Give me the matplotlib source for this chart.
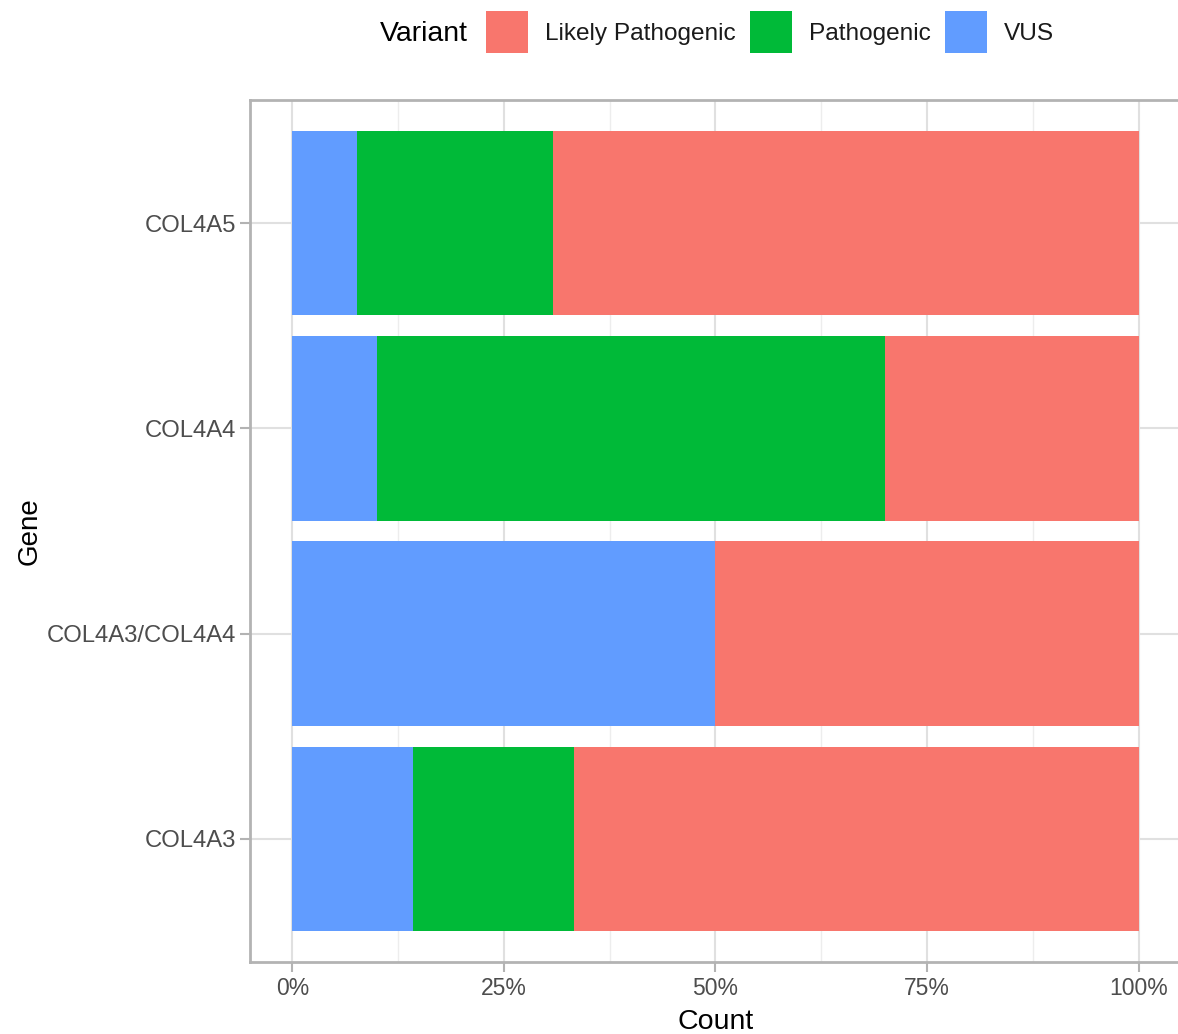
import numpy as np
import matplotlib
matplotlib.use("Agg")
import matplotlib.pyplot as plt
from matplotlib.patches import Patch
from matplotlib.ticker import PercentFormatter, MultipleLocator

plt.rcParams['font.family'] = ['Liberation Sans', 'DejaVu Sans']

# ---- data ----
genes = ["COL4A3", "COL4A3/COL4A4", "COL4A4", "COL4A5"]
vus = [3, 1, 1, 1]
pathogenic = [4, 0, 6, 3]
likely_pathogenic = [14, 1, 3, 9]
variant_labels = ["Likely Pathogenic", "Pathogenic", "VUS"]
colors = {"Likely Pathogenic": "#F8766D", "Pathogenic": "#00BA38", "VUS": "#619CFF"}
x_ticks = [0, 0.25, 0.5, 0.75, 1.0]

W, H = 1178, 1034
fig = plt.figure(figsize=(W / 100, H / 100), dpi=100)
left, right, top, bottom = 250, 1181, 100, 962
ax = fig.add_axes([left / W, 1 - bottom / H, (right - left) / W, (bottom - top) / H])

v = np.array(vus, float)
p = np.array(pathogenic, float)
lp = np.array(likely_pathogenic, float)
tot = v + p + lp
fv, fp, flp = v / tot, p / tot, lp / tot
y = np.arange(1, len(genes) + 1)

ax.barh(y, fv, height=0.9, color=colors["VUS"], zorder=3)
ax.barh(y, fp, left=fv, height=0.9, color=colors["Pathogenic"], zorder=3)
ax.barh(y, flp, left=fv + fp, height=0.9, color=colors["Likely Pathogenic"], zorder=3)

ax.set_xlim(-0.05, 1.05)
ax.set_ylim(0.4, len(genes) + 0.6)
ax.set_xticks(x_ticks)
ax.xaxis.set_minor_locator(MultipleLocator(0.125))
ax.xaxis.set_major_formatter(PercentFormatter(xmax=1, decimals=0))
ax.set_yticks(y)
ax.set_yticklabels(genes)
ax.tick_params(axis='both', which='major', length=7, width=1.5, color='#B3B3B3',
               labelsize=16.5, labelcolor='#4D4D4D', pad=4)
ax.tick_params(axis='y', which='major', labelsize=17.2, pad=3)
ax.tick_params(axis='x', which='minor', length=0)
ax.grid(True, which='major', color='#E0E0E0', linewidth=1.5, zorder=0)
ax.grid(True, which='minor', axis='x', color='#EDEDED', linewidth=1.0, zorder=0)
ax.set_axisbelow(True)
for s in ax.spines.values():
    s.set_color('#B3B3B3')
    s.set_linewidth(2)

ax.set_xlabel("Count", fontsize=20.5, color='black', labelpad=6)
ax.set_ylabel("Gene", fontsize=20, color='black', labelpad=3)

handles = [Patch(facecolor=colors[k], edgecolor='none') for k in variant_labels]
leg = fig.legend(handles, variant_labels, loc='center left',
                 bbox_to_anchor=(486 / W, 1 - 32 / H), ncol=3, frameon=False,
                 fontsize=17.6, handlelength=1.71, handleheight=2.26,
                 handletextpad=0.69, columnspacing=0.6, borderpad=0, borderaxespad=0)
for t in leg.get_texts():
    t.set_color('#1A1A1A')
fig.text(468 / W, 1 - 34 / H, "Variant", ha='right', va='center', fontsize=20.5)

fig.savefig("out.png", dpi=100)
